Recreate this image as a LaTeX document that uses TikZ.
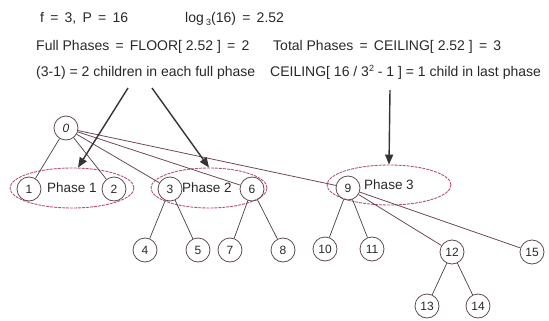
\documentclass[tikz,border=0pt]{standalone}
\usepackage{fontspec}
\setmainfont{Liberation Sans}
\usetikzlibrary{shapes.geometric,arrows.meta}
\definecolor{circcol}{RGB}{95,75,85}
\definecolor{edgecol}{RGB}{70,65,68}
\definecolor{longcol}{RGB}{110,70,90}
\definecolor{phasecol}{RGB}{180,80,115}
\definecolor{arrcol}{RGB}{55,50,55}
\definecolor{txtcol}{RGB}{40,40,40}
\begin{document}
\begin{tikzpicture}[x=1pt,y=-1pt,
  tn/.style={circle,draw=circcol,line width=0.8pt,minimum size=24pt,inner sep=0pt,font=\fontsize{12}{14}\selectfont,text=txtcol},
  phasebox/.style={ellipse,draw=phasecol,dashed,dash pattern=on 3pt off 1pt,line width=0.9pt,inner sep=0pt,font=\fontsize{13.5}{15}\selectfont,text=txtcol},
  edge/.style={draw=edgecol,line width=0.7pt},
  longedge/.style={draw=longcol,line width=0.8pt},
  bigarrow/.style={draw=arrcol,line width=1.4pt,-{Triangle[length=10pt,width=8pt]}},
  info/.style={anchor=base west,inner sep=0pt,font=\fontsize{14}{16}\selectfont,text=txtcol}
]
\useasboundingbox (0,0) rectangle (549,321);
% header text
\node[info] (t1) at (40,23) {f\, =\, 3,\, P\, =\, 16};
\node[info] (t2) at (185,23) {log\,{\raisebox{-0.35ex}{\fontsize{9}{10}\selectfont 3}}(16)\, =\, 2.52};
\node[info] (t3) at (36,51) {Full Phases\, =\, FLOOR[ 2.52 ]\, =\, 2};
\node[info] (t4) at (273,51) {Total Phases\, =\, CEILING[ 2.52 ]\, =\, 3};
\node[info] (t5) at (36,77) {(3-1) = 2 children in each full phase};
\node[info] (t6) at (270,77) {CEILING[ 16 / 3{\raisebox{0.7ex}{\fontsize{9}{10}\selectfont 2}} - 1 ] = 1 child in last phase};
% phase ellipses
\node[phasebox,minimum width=124pt,minimum height=40pt] (ph1) at (72,188) {Phase 1};
\node[phasebox,minimum width=116pt,minimum height=40pt] (ph2) at (209,188) {\hspace*{-4pt}Phase 2};
\node[phasebox,minimum width=124pt,minimum height=40pt] (ph3) at (389,185) {Phase 3};
% tree nodes
\node[tn] (n0) at (66,128) {\textit{0}};
\node[tn] (n1) at (29,189) {1};
\node[tn] (n2) at (114,189) {2};
\node[tn] (n3) at (170,189) {3};
\node[tn] (n6) at (252,189) {6};
\node[tn] (n9) at (348,188) {9};
\node[tn] (n4) at (145,250) {4};
\node[tn] (n5) at (198,250) {5};
\node[tn] (n7) at (230,250) {7};
\node[tn] (n8) at (283,250) {8};
\node[tn] (n10) at (325,249) {10};
\node[tn] (n11) at (372,249) {11};
\node[tn] (n12) at (452,252) {12};
\node[tn] (n15) at (532,252) {15};
\node[tn] (n13) at (427,306) {13};
\node[tn] (n14) at (478,306) {14};
% edges
\draw[edge] (n0) -- (n1);
\draw[edge] (n0) -- (n2);
\draw[longedge] (n0) -- (n3);
\draw[longedge] (n0) -- (n6);
\draw[longedge] (n0) -- (n9);
\draw[edge] (n3) -- (n4);
\draw[edge] (n3) -- (n5);
\draw[edge] (n6) -- (n7);
\draw[edge] (n6) -- (n8);
\draw[edge] (n9) -- (n10);
\draw[edge] (n9) -- (n11);
\draw[longedge] (n9) -- (n12);
\draw[longedge] (n9) -- (n15);
\draw[edge] (n12) -- (n13);
\draw[edge] (n12) -- (n14);
% big arrows
\coordinate (a1) at (128,88);
\coordinate (a2) at (152,88);
\coordinate (a3) at (390,90);
\draw[bigarrow] (a1) -- ([xshift=6pt]ph1.north);
\draw[bigarrow] (a2) -- (ph2.north);
\draw[bigarrow] (a3) -- (ph3.north);
\end{tikzpicture}
\end{document}
